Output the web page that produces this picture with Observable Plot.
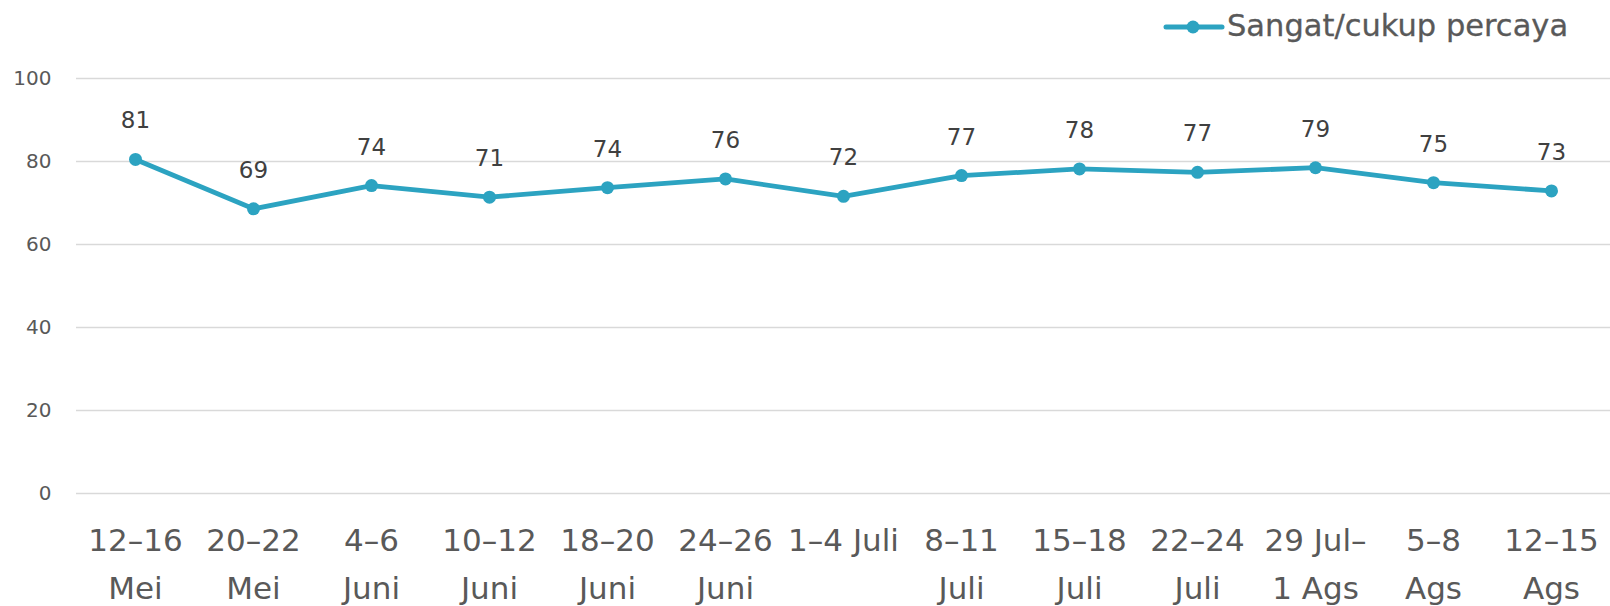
<!DOCTYPE html>
<html>
<head>
<meta charset="utf-8">
<script src="https://cdn.jsdelivr.net/npm/d3@7"></script>
<script src="https://cdn.jsdelivr.net/npm/@observablehq/plot@0.6"></script>
<style>
  html, body { margin: 0; padding: 0; background: #ffffff; }
  #wrap { width: 1610px; font-family: "DejaVu Sans", sans-serif; }
  #legend { display: block; }
  #chart svg { display: block; }
</style>
</head>
<body>
<div id="wrap">
  <svg id="legend" width="1610" height="50">
    <line x1="1166" x2="1222" y1="27" y2="27" stroke="#2ca3c1" stroke-width="5" stroke-linecap="round"></line>
    <circle cx="1193" cy="27" r="6.5" fill="#2ca3c1"></circle>
    <text x="1227" y="36" font-family="DejaVu Sans" font-size="30.5" fill="#595959" stroke="#595959" stroke-width="0.3" paint-order="stroke">Sangat/cukup percaya</text>
  </svg>
  <div id="chart"></div>
</div>
<script>
const categories = ["12–16\nMei", "20–22\nMei", "4–6\nJuni", "10–12\nJuni", "18–20\nJuni", "24–26\nJuni", "1–4 Juli", "8–11\nJuli", "15–18\nJuli", "22–24\nJuli", "29 Jul–\n1 Ags", "5–8\nAgs", "12–15\nAgs"];
const values = [80.5, 68.6, 74.2, 71.4, 73.7, 75.8, 71.6, 76.6, 78.2, 77.4, 78.5, 74.9, 72.9];
const labels = ["81", "69", "74", "71", "74", "76", "72", "77", "78", "77", "79", "75", "73"];
const yTicks = [0, 20, 40, 60, 80, 100];
const seriesName = "Sangat/cukup percaya";
const lineColor = "#2ca3c1";

const data = categories.map((c, i) => ({cat: c, value: values[i], label: labels[i], series: seriesName}));

const chart = Plot.plot({
  width: 1610,
  height: 556,
  marginLeft: 76,
  marginRight: 0,
  marginTop: 28,
  marginBottom: 113,
  style: {fontFamily: "DejaVu Sans", background: "#ffffff"},
  x: {type: "point", domain: categories, padding: 0.5, axis: null, label: null},
  y: {domain: [0, 100], axis: null, label: null},
  marks: [
    Plot.gridY(yTicks, {stroke: "#d9d9d9", strokeOpacity: 1, strokeWidth: 1.5}),
    Plot.axisY(yTicks, {label: null, tickSize: 0, tickPadding: 25, fontSize: 20, fill: "#595959"}),
    Plot.axisX({label: null, tickSize: 0, tickPadding: 23, fontSize: 31, lineHeight: 1.55, fill: "#595959", stroke: "#595959", strokeWidth: 0.9}),
    Plot.line(data, {x: "cat", y: "value", stroke: lineColor, strokeWidth: 4.8}),
    Plot.dot(data, {x: "cat", y: "value", r: 6.5, fill: lineColor, stroke: "none"}),
    Plot.text(data, {x: "cat", y: "value", text: "label", dy: -31, lineAnchor: "bottom", fontSize: 23, fill: "#404040"})
  ]
});
document.getElementById("chart").appendChild(chart);
</script>
</body>
</html>
